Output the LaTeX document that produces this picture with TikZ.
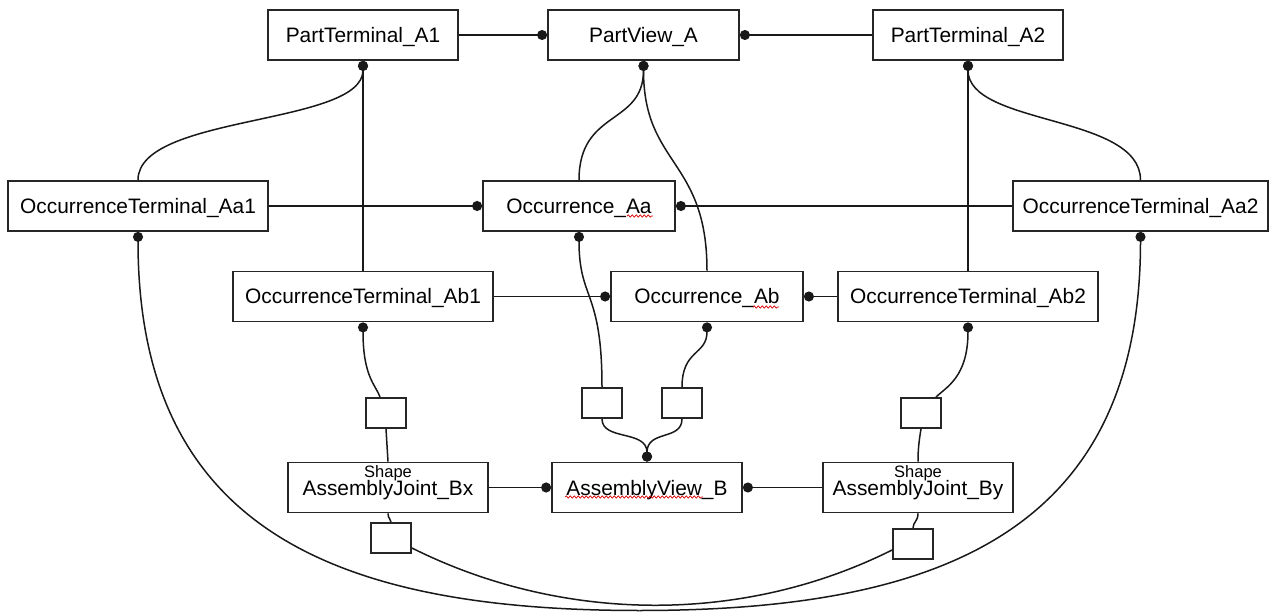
\documentclass[tikz,border=0pt]{standalone}
\usepackage{fontspec}
\setmainfont{Liberation Sans}
\usetikzlibrary{arrows.meta,calc,decorations.pathmorphing}

\begin{document}
\begin{tikzpicture}[x=1pt,y=-1pt,
  box/.style={draw=black!85, line width=1.8pt, fill=white, minimum height=50pt,
    inner sep=0pt, text height=15pt, text depth=0pt,
    font=\fontsize{20.9pt}{24pt}\selectfont},
  port/.style={draw=black!85, line width=1.8pt, fill=white,
    minimum width=40pt, minimum height=30pt, inner sep=0pt},
  link/.style={line width=1.5pt, black!90},
  dotend/.style={link, -{Circle[length=10pt,width=10pt]}},
  dotstart/.style={link, {Circle[length=10pt,width=10pt]}-},
  captag/.style={font=\fontsize{16.5pt}{18pt}\selectfont, inner sep=0pt, anchor=base},
  squiggle/.style={draw=red!85!black, line width=0.7pt, decorate,
    decoration={snake, amplitude=1.2pt, segment length=4pt}}
]
\useasboundingbox (0,0) rectangle (1272,612);

% part level
\node[box, minimum width=190pt] (pta1) at (363,35) {PartTerminal\_A1};
\node[box, minimum width=191pt] (pv)   at (643.5,35) {PartView\_A};
\node[box, minimum width=190pt] (pta2) at (968,35) {PartTerminal\_A2};

% occurrences
\node[box, minimum width=260pt] (ota1) at (138,206) {OccurrenceTerminal\_Aa1};
\node[box, minimum width=192pt] (oa)   at (579,206) {Occurrence\_Aa};
\node[box, minimum width=255pt] (ota2) at (1140.5,206) {OccurrenceTerminal\_Aa2};
\node[box, minimum width=260pt] (otb1) at (363,296.5) {OccurrenceTerminal\_Ab1};
\node[box, minimum width=192pt] (ob)   at (707,296.5) {Occurrence\_Ab};
\node[box, minimum width=260pt] (otb2) at (968,296.5) {OccurrenceTerminal\_Ab2};

% small ports
\node[port] (sb1) at (386,413) {};
\node[port] (sb2) at (602,403) {};
\node[port] (sb3) at (682,403) {};
\node[port] (sb4) at (921,413) {};
\node[port] (sb5) at (391,538) {};
\node[port] (sb6) at (913,544) {};

% assembly level
\node[box, minimum width=200pt] (ajx) at (388,487.5) {AssemblyJoint\_Bx};
\node[box, minimum width=190pt] (av)  at (647,487.5) {AssemblyView\_B};
\node[box, minimum width=190pt] (ajy) at (918,487.5) {AssemblyJoint\_By};
\node[captag] (capx) at (388,477) {Shape};
\node[captag] (capy) at (918,477) {Shape};

% spelling marks
\draw[squiggle] ($(oa.center)+(48,10)$) -- ($(oa.center)+(74,10)$);
\draw[squiggle] ($(ob.center)+(46,10.5)$) -- ($(ob.center)+(72,10.5)$);
\draw[squiggle] ($(av.center)+(-82,9.5)$) -- ($(av.center)+(56,9.5)$);

% top row links
\draw[dotend] (pta1.east) -- (pv.west);
\draw[dotstart] (pv.east) -- (pta2.west);
\draw[dotstart] (pta1.south) .. controls +(0,65) and +(0,-66) .. (ota1.north);
\draw[dotstart] (pta1.south) -- (otb1.north);
\draw[dotstart] (pv.south) .. controls +(0,65) and +(0,-71) .. (oa.north);
\draw[dotstart] (pv.south) .. controls +(0,105) and +(0,-112) .. (ob.north);
\draw[dotstart] (pta2.south) .. controls +(0,65) and +(0,-66) .. (ota2.north);
\draw[dotstart] (pta2.south) -- (otb2.north);

% occurrence links
\draw[dotend] (ota1.east) -- (oa.west);
\draw[dotstart] (oa.east) -- (ota2.west);
\draw[dotend] (otb1.east) -- (ob.west);
\draw[dotstart] (ob.east) -- (otb2.west);
\draw[dotstart] (oa.south) .. controls +(0,69) and +(0,-98) .. (sb2.north);
\draw[dotstart] (ob.south) .. controls +(0,33) and +(0,-38) .. (sb3.north);
\draw[dotend] (sb2.south) .. controls +(0,22) and +(0,-32) .. (av.north);
\draw[dotend] (sb3.south) .. controls +(0,22) and +(0,-32) .. (av.north);

% joints
\draw[dotstart] (otb1.south) .. controls +(0,55) and +(-4,-12) .. ($(sb1.north)+(-6,0)$);
\draw[link] (sb1.south) -- (ajx.north);
\draw[link] (ajx.south) .. controls +(0,6) and +(0,-4) .. (sb5.north);
\draw[dotstart] (otb2.south) .. controls +(0,55) and +(10,-10) .. ($(sb4.north)+(15,0)$);
\draw[link] (sb4.south) .. controls +(-2,12) and +(0,-12) .. (ajy.north);
\draw[link] (ajy.south) .. controls +(0,8) and +(0,-6) .. (sb6.north);
\draw[dotend] (ajx.east) -- (av.west);
\draw[dotstart] (av.east) -- (ajy.west);

% lower arcs
\coordinate (sag) at (639.5,610.5);
\draw[dotstart] (ota1.south) .. controls +(0,300) and +(-300,0) .. (sag);
\draw[dotstart] (ota2.south) .. controls +(0,300) and +(300,0) .. (sag);
\draw[link] ($(sb5.east)+(0,10)$) .. controls +(150,75) and +(-150,75) .. ($(sb6.west)+(0,6)$);
\end{tikzpicture}
\end{document}
